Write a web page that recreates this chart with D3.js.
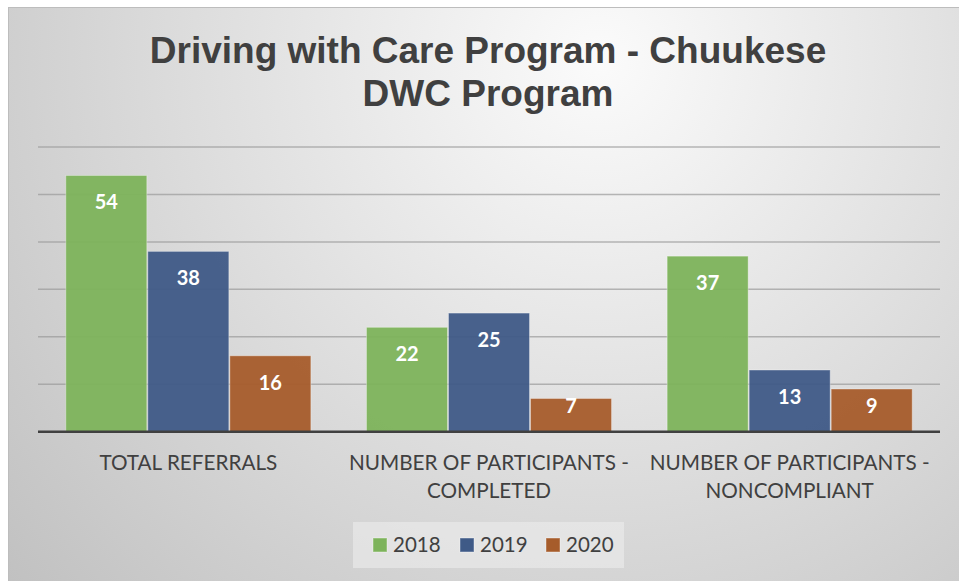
<!DOCTYPE html>
<html><head><meta charset="utf-8">
<script src="https://cdn.jsdelivr.net/npm/d3@7"></script>
<style>html,body{margin:0;padding:0;background:#fff;overflow:hidden}</style>
</head><body>
<svg id="c" width="959" height="581"></svg>
<script>
const titleLines = ["Driving with Care Program - Chuukese", "DWC Program"];
const categories = ["TOTAL REFERRALS", "NUMBER OF PARTICIPANTS - COMPLETED", "NUMBER OF PARTICIPANTS - NONCOMPLIANT"];
const categoryLines = [["TOTAL REFERRALS"], ["NUMBER OF PARTICIPANTS -", "COMPLETED"], ["NUMBER OF PARTICIPANTS -", "NONCOMPLIANT"]];
const years = ["2018", "2019", "2020"];
const values2018 = [54, 22, 37];
const values2019 = [38, 25, 13];
const values2020 = [16, 7, 9];
const yTicks = [0, 10, 20, 30, 40, 50, 60];
const colors = ["#7db35b", "#3f5a87", "#a65c2b"];

(function(){
const series = [values2018, values2019, values2020];
const svg = d3.select("#c");
const defs = svg.append("defs");
const grad = defs.append("radialGradient").attr("id","bg").attr("gradientUnits","userSpaceOnUse")
  .attr("cx",600).attr("cy",60).attr("r",800);
grad.append("stop").attr("offset","0").attr("stop-color","#fbfbfb");
grad.append("stop").attr("offset","1").attr("stop-color","#c0c0c0");

svg.append("rect").attr("x",8.5).attr("y",7.5).attr("width",960).attr("height",580)
  .attr("fill","url(#bg)").attr("stroke","#bdbdbd").attr("stroke-width",1);

svg.append("g").selectAll("text").data(titleLines).join("text")
  .attr("x",488).attr("y",(d,i)=>63+i*43)
  .attr("text-anchor","middle")
  .attr("font-family","'Liberation Sans', Arial, sans-serif").attr("font-weight","bold")
  .attr("font-size",37).attr("fill","#404040").text(d=>d);

const pLeft=38, pRight=940, pBase=431.7, pTop=147;
const x0 = d3.scaleBand().domain(categories).range([pLeft,pRight]).padding(0);
const gap = 27.3;
const x1 = d3.scaleBand().domain(years).range([gap, x0.bandwidth()-gap]).padding(0);
const y = d3.scaleLinear().domain([0,60]).range([pBase, pTop]);

svg.append("g").selectAll("line").data(yTicks.filter(t=>t>0)).join("line")
  .attr("x1",pLeft).attr("x2",pRight).attr("y1",d=>y(d)).attr("y2",d=>y(d))
  .attr("stroke","#9a9a9a").attr("stroke-opacity",0.7).attr("stroke-width",1.5);

const g = svg.append("g");
categories.forEach((c,ci)=>{
  years.forEach((yr,si)=>{
    const v = series[si][ci];
    const bx = x0(c)+x1(yr), bw = x1.bandwidth();
    g.append("rect").attr("x",bx+0.5).attr("y",y(v)).attr("width",bw-1).attr("height",pBase-y(v))
      .attr("fill",colors[si]).attr("fill-opacity",0.95)
      .attr("stroke","#ffffff").attr("stroke-opacity",0.35).attr("stroke-width",1);
    const ty = Math.min(y(v)+34, pBase-18.5);
    g.append("text").attr("x",bx+bw/2).attr("y",ty).attr("text-anchor","middle")
      .attr("font-family","Lato, 'Open Sans', sans-serif").attr("font-weight","bold")
      .attr("font-size",20).attr("fill","#ffffff").text(v);
  });
});

svg.append("line").attr("x1",pLeft).attr("x2",pRight).attr("y1",pBase).attr("y2",pBase)
  .attr("stroke","#404040").attr("stroke-width",2.5);

categories.forEach((c,ci)=>{
  svg.append("text").attr("text-anchor","middle")
    .attr("font-family","Lato, 'Open Sans', sans-serif").attr("font-size",20.7).attr("fill","#404040")
    .selectAll("tspan").data(categoryLines[ci]).join("tspan")
    .attr("x",x0(c)+x0.bandwidth()/2).attr("y",(d,i)=>470+i*28).text(d=>d);
});

svg.append("rect").attr("x",353).attr("y",522).attr("width",271).attr("height",46)
  .attr("fill","#ededed").attr("fill-opacity",0.6);
const legX = [373, 460, 546];
years.forEach((yr,i)=>{
  svg.append("rect").attr("x",legX[i]).attr("y",538).attr("width",14).attr("height",14)
    .attr("fill",colors[i]).attr("stroke","#ffffff").attr("stroke-opacity",0.4);
  svg.append("text").attr("x",legX[i]+20).attr("y",552)
    .attr("font-family","Lato, 'Open Sans', sans-serif").attr("font-size",20.5).attr("fill","#404040").text(yr);
});
})();
</script>
</body></html>
